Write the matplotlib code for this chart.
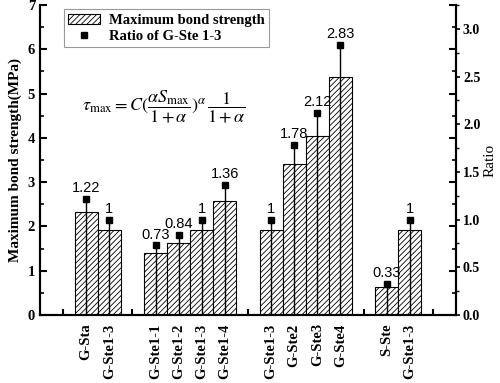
import matplotlib
matplotlib.use("Agg")
import matplotlib.pyplot as plt
from matplotlib.ticker import MultipleLocator, FixedLocator

# Chart data
labels = ["G-Sta", "G-Ste1-3",
          "G-Ste1-1", "G-Ste1-2", "G-Ste1-3", "G-Ste1-4",
          "G-Ste1-3", "G-Ste2", "G-Ste3", "G-Ste4",
          "S-Ste", "G-Ste1-3"]
positions = [2, 3, 5, 6, 7, 8, 10, 11, 12, 13, 15, 16]
strength = [2.32, 1.91, 1.39, 1.62, 1.91, 2.58, 1.91, 3.40, 4.04, 5.38, 0.63, 1.91]
ratio = [1.22, 1, 0.73, 0.84, 1, 1.36, 1, 1.78, 2.12, 2.83, 0.33, 1]
ratio_text = ["1.22", "1", "0.73", "0.84", "1", "1.36", "1", "1.78", "2.12", "2.83", "0.33", "1"]
separators = [1, 4, 9, 14, 17]
ratio_ticks = [0.0, 0.5, 1.0, 1.5, 2.0, 2.5, 3.0]

plt.rcParams["font.family"] = "Liberation Serif"
plt.rcParams["mathtext.fontset"] = "stix"
plt.rcParams["hatch.linewidth"] = 0.6

fig = plt.figure(figsize=(5, 3.83), dpi=100)
ax = fig.add_axes([0.08, 0.1775, 0.832, 0.8095])
ax2 = ax.twinx()

# bars
ax.bar(positions, strength, width=1.0, color="white", edgecolor="black",
       linewidth=0.8, hatch="//////", label="Maximum bond strength")
ax.set_xlim(0, 18)
ax.set_ylim(0, 7)

# ratio points with drop lines
ax2.vlines(positions, 0, ratio, color="black", linewidth=1.0)
ax2.plot(positions, ratio, linestyle="none", marker="s", markersize=5,
         color="black", label="Ratio of G-Ste 1-3")
for x, r, t in zip(positions, ratio, ratio_text):
    ax2.text(x, r + 0.04, t, ha="center", va="bottom", fontsize=10.5,
             family="Liberation Sans")

# spines
for a in (ax, ax2):
    a.spines["top"].set_visible(False)
    for s in ("left", "right", "bottom"):
        a.spines[s].set_linewidth(1.5)

# x ticks: separator ticks inward, labels at bar centres
ax.xaxis.set_major_locator(FixedLocator(separators))
ax.set_xticks(positions, labels, minor=True, rotation=90)
ax.tick_params(axis="x", which="major", direction="in", length=4, width=1.5,
               labelbottom=False)
ax.tick_params(axis="x", which="minor", length=0, pad=6, labelsize=10.5)
for lab in ax.get_xticklabels(minor=True):
    lab.set_fontweight("bold")

# left y ticks, mirrored on the right side
ax.yaxis.set_major_locator(MultipleLocator(1))
ax.yaxis.set_minor_locator(MultipleLocator(0.5))
ax.tick_params(axis="y", which="major", direction="in", length=5, width=1.5,
               right=True, labelsize=10.5)
ax.tick_params(axis="y", which="minor", direction="in", length=3, width=1.2,
               right=True)
for lab in ax.get_yticklabels():
    lab.set_fontweight("bold")

# right y ticks
ax2.yaxis.set_major_locator(FixedLocator(ratio_ticks))
ax2.yaxis.set_minor_locator(MultipleLocator(0.25))
ax2.tick_params(axis="y", which="major", direction="out", length=3, width=1.2,
                labelsize=10, pad=2)
ax2.tick_params(axis="y", which="minor", direction="out", length=2, width=1.0)
ax2.set_yticklabels([f"{v:.1f}" for v in ratio_ticks], fontweight="bold")
ax2.set_ylim(0, 3.25)

ax.set_ylabel("Maximum bond strength(MPa)", fontsize=11, fontweight="bold",
              labelpad=4)
ax2.set_ylabel("Ratio", fontsize=11, labelpad=2)

# formula
ax.text(1.8, 4.7,
        r"$\tau_{\max}=C(\dfrac{\alpha S_{\max}}{1+\alpha})^{\alpha}\,\dfrac{1}{1+\alpha}$",
        fontsize=13, ha="left", va="center")

# legend
h1, l1 = ax.get_legend_handles_labels()
h2, l2 = ax2.get_legend_handles_labels()
leg = ax2.legend(h1 + h2, l1 + l2, loc="upper left", bbox_to_anchor=(0.04, 1.01),
                 fancybox=False, edgecolor="#999999", framealpha=1,
                 prop={"weight": "bold", "size": 10.5}, handlelength=2.2,
                 borderpad=0.3, labelspacing=0.2, handletextpad=0.6)
leg.get_frame().set_linewidth(0.8)

fig.savefig("out.png", dpi=100)
